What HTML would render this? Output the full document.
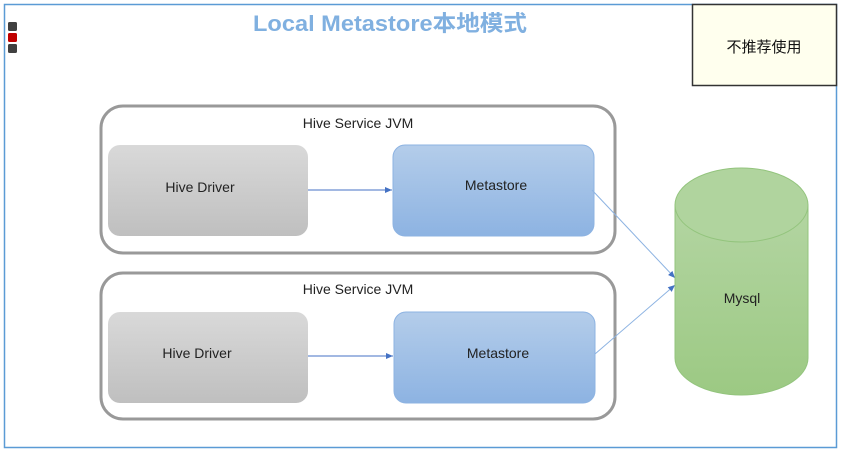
<!DOCTYPE html>
<html><head><meta charset="utf-8"><style>body{margin:0;background:#fff}svg{display:block}text{font-family:"Liberation Sans","Noto Sans CJK SC",sans-serif}</style></head><body>
<svg width="841" height="453" viewBox="0 0 841 453">
<defs>
<linearGradient id="g" x1="0" y1="0" x2="0" y2="1"><stop offset="0" stop-color="#d9d9d9"/><stop offset="1" stop-color="#bfbfbf"/></linearGradient>
<linearGradient id="b" x1="0" y1="0" x2="0" y2="1"><stop offset="0" stop-color="#b4cdea"/><stop offset="1" stop-color="#8db3e2"/></linearGradient>
<linearGradient id="gr" x1="0" y1="0" x2="0" y2="1"><stop offset="0" stop-color="#b3d5a2"/><stop offset="1" stop-color="#9cc983"/></linearGradient>
<marker id="a" markerWidth="8" markerHeight="8" refX="7" refY="4" orient="auto" markerUnits="userSpaceOnUse"><path d="M0,1 L7,4 L0,7 z" fill="#4472c4"/></marker>
</defs>
<rect x="4.5" y="4.5" width="832" height="443" fill="#fff" stroke="#5b9bd5" stroke-width="1.5"/>
<rect x="8" y="22" width="9" height="9" rx="1.5" fill="#404040"/>
<rect x="8" y="33" width="9" height="9" rx="1.5" fill="#c00000"/>
<rect x="8" y="44" width="9" height="9" rx="1.5" fill="#404040"/>
<text x="390" y="31" text-anchor="middle" font-size="22" font-weight="bold" fill="#80b0e0" textLength="274" lengthAdjust="spacingAndGlyphs">Local Metastore本地模式</text>
<rect x="692.5" y="4.5" width="144" height="81" fill="#ffffee" stroke="#333" stroke-width="1.5"/>
<text x="764" y="52" text-anchor="middle" font-size="15" fill="#111">不推荐使用</text>
<g>
<rect x="101" y="106" width="514" height="147" rx="22" fill="#fff" stroke="#999" stroke-width="3"/>
<text x="358" y="128" text-anchor="middle" font-size="14" fill="#222">Hive Service JVM</text>
<rect x="108" y="145" width="200" height="91" rx="12" fill="url(#g)"/>
<text x="200" y="192" text-anchor="middle" font-size="14" fill="#222">Hive Driver</text>
<rect x="393" y="145" width="201" height="91" rx="12" fill="url(#b)" stroke="#8db3e2"/>
<text x="496" y="190" text-anchor="middle" font-size="14" fill="#222">Metastore</text>
<line x1="308" y1="190" x2="392" y2="190" stroke="#4472c4" marker-end="url(#a)"/>
</g>
<g>
<rect x="101" y="273" width="514" height="146" rx="22" fill="#fff" stroke="#999" stroke-width="3"/>
<text x="358" y="294" text-anchor="middle" font-size="14" fill="#222">Hive Service JVM</text>
<rect x="108" y="312" width="200" height="91" rx="12" fill="url(#g)"/>
<text x="197" y="358" text-anchor="middle" font-size="14" fill="#222">Hive Driver</text>
<rect x="394" y="312" width="201" height="91" rx="12" fill="url(#b)" stroke="#8db3e2"/>
<text x="498" y="358" text-anchor="middle" font-size="14" fill="#222">Metastore</text>
<line x1="308" y1="356" x2="393" y2="356" stroke="#4472c4" marker-end="url(#a)"/>
</g>
<line x1="592" y1="190" x2="675" y2="278" stroke="#8db3e2" marker-end="url(#a)"/>
<line x1="595" y1="354" x2="675" y2="285" stroke="#8db3e2" marker-end="url(#a)"/>
<path d="M675,205 L675,358 A66.5,37 0 0 0 808,358 L808,205 Z" fill="url(#gr)" stroke="#93c47d"/>
<ellipse cx="741.5" cy="205" rx="66.5" ry="37" fill="#b0d49e" stroke="#93c47d"/>
<text x="742" y="303" text-anchor="middle" font-size="14" fill="#222">Mysql</text>
</svg>
</body></html>
